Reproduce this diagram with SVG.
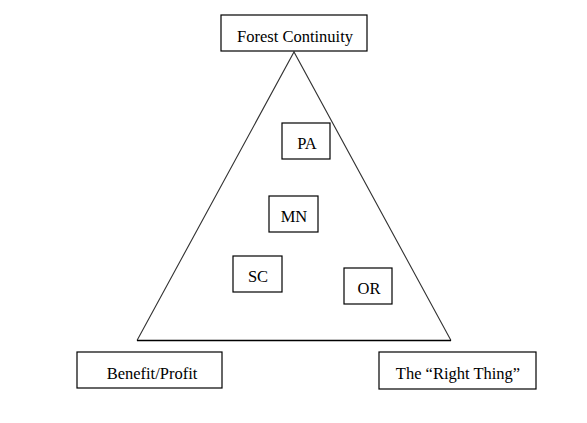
<svg xmlns="http://www.w3.org/2000/svg" width="587" height="423" viewBox="0 0 587 423">
<style>
.box{fill:#fff;stroke:#000;stroke-width:1.2}
.t{font-family:"Liberation Serif","Times New Roman",serif;font-size:16.5px;fill:#000;text-anchor:middle}
.tri{fill:none;stroke:#333;stroke-width:1.1}
</style>
<rect width="587" height="423" fill="#fff"/>
<g id="connectors">
<polyline class="tri" points="137,340.5 294,52 451,340.5"/>
<line x1="137" y1="340.5" x2="451" y2="340.5" stroke="#000" stroke-width="1.4"/>
</g>
<g id="forest"><rect class="box" x="221" y="15" width="146" height="36"/><text class="t" x="295" y="42">Forest Continuity</text></g>
<g id="benefit"><rect class="box" x="77" y="352" width="145" height="36"/><text class="t" x="152" y="379">Benefit/Profit</text></g>
<g id="right"><rect class="box" x="379" y="352" width="157" height="37"/><text class="t" x="458" y="379">The “Right Thing”</text></g>
<g id="pa"><rect class="box" x="282" y="123" width="48" height="36"/><text class="t" x="307" y="149">PA</text></g>
<g id="mn"><rect class="box" x="269" y="196" width="49" height="36"/><text class="t" x="294" y="222">MN</text></g>
<g id="sc"><rect class="box" x="233" y="256" width="49" height="36"/><text class="t" x="258" y="282">SC</text></g>
<g id="or"><rect class="box" x="344" y="268" width="48" height="36"/><text class="t" x="369" y="294">OR</text></g>
</svg>
